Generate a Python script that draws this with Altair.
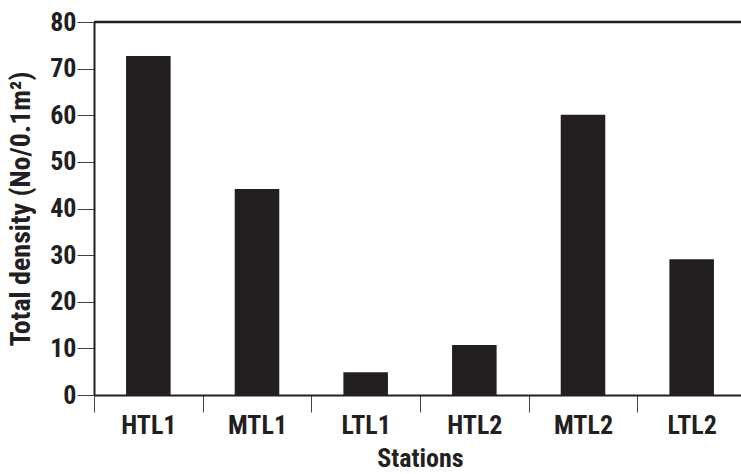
import altair as alt
import pandas as pd

stations = ["HTL1", "MTL1", "LTL1", "HTL2", "MTL2", "LTL2"]
density = [72.7, 44.2, 4.9, 10.7, 60.1, 29.1]
y_ticks = [0, 10, 20, 30, 40, 50, 60, 70, 80]

df = pd.DataFrame({"Station": stations, "Density": density})

FONT = "Roboto Condensed, Roboto, sans-serif"
INK = "#231f20"

x = alt.X(
    "Station:N",
    sort=stations,
    title="Stations",
    scale=alt.Scale(range=[0, 652], paddingInner=0, paddingOuter=0),
    axis=alt.Axis(
        labelAngle=0, tickBand="extent", tickSize=17, tickColor="#444444",
        tickWidth=1, domainColor=INK, domainWidth=2,
        labelFont=FONT, labelFontSize=26, labelFontWeight="bold", labelColor=INK,
        labelPadding=0, titleFont=FONT, titleFontSize=26, titleFontWeight="bold",
        titleColor=INK, titlePadding=7,
    ),
)
y = alt.Y(
    "Density:Q",
    title="Total density (No/0.1m²)",
    scale=alt.Scale(domain=[0, 80], nice=False),
    axis=alt.Axis(
        values=y_ticks, tickSize=17, tickColor="#444444", tickWidth=1,
        domainColor=INK, domainWidth=2, grid=False,
        labelFont=FONT, labelFontSize=26, labelFontWeight="bold", labelColor=INK,
        labelPadding=1, titleFont=FONT, titleFontSize=28, titleFontWeight="bold",
        titleColor=INK, titlePadding=14,
    ),
)

bars = alt.Chart(df).mark_bar(color=INK, width=alt.RelativeBandSize(0.41)).encode(x=x, y=y)
top = alt.Chart(pd.DataFrame({"v": [80]})).mark_rule(color=INK, strokeWidth=2.5).encode(
    y=alt.Y("v:Q", scale=alt.Scale(domain=[0, 80], nice=False)),
    x=alt.value(0), x2=alt.value(660),
)

chart = alt.layer(bars, top).properties(
    width=647, height=373,
    autosize=alt.AutoSizeParams(type="none"),
    padding={"left": 94, "top": 22, "right": 0, "bottom": 79},
).configure_view(stroke=None).configure(background="white")

chart.save("out.html", embed_options={"renderer": "svg", "actions": False})
